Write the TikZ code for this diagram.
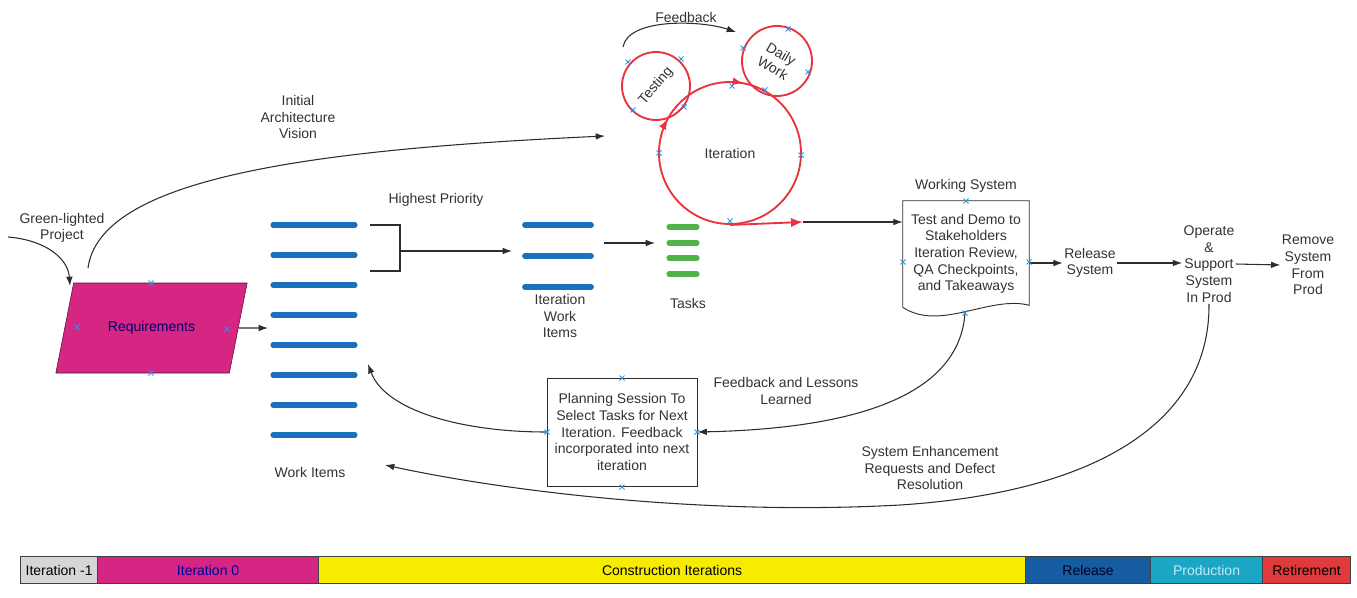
\documentclass[tikz,border=0pt]{standalone}
\usepackage{fontspec}
\setmainfont{Liberation Sans}
\usetikzlibrary{arrows.meta,shapes.geometric,decorations.markings}

\definecolor{reqmag}{RGB}{212,38,130}
\definecolor{itemblue}{RGB}{26,112,186}
\definecolor{taskgreen}{RGB}{84,178,74}
\definecolor{loopred}{RGB}{232,52,62}
\definecolor{cpblue}{RGB}{40,150,230}
\definecolor{txtgray}{RGB}{50,50,50}
\definecolor{lineg}{RGB}{45,45,45}
\definecolor{phgray}{RGB}{214,214,214}
\definecolor{phyellow}{RGB}{246,236,0}
\definecolor{phblue}{RGB}{22,92,162}
\definecolor{phteal}{RGB}{26,166,196}
\definecolor{phred}{RGB}{224,58,58}

\begin{document}
\begin{tikzpicture}[x=0.75pt,y=-0.75pt,
    font=\fontsize{10.5}{12.5}\selectfont,
    lbl/.style={align=center,text=txtgray,inner sep=1pt},
    flow/.style={draw=lineg,line width=0.8pt,-{Latex[length=7pt,width=5pt]}},
    loopline/.style={draw=loopred,line width=1.4pt},
    bubble/.style={loopline,circle,inner sep=0pt},
    itembar/.style={itemblue,line width=3.8pt,line cap=round},
    taskbar/.style={taskgreen,line width=3.8pt,line cap=round},
    phase/.style={draw=black!75,line width=0.9pt,minimum height=20pt,anchor=west,inner sep=0pt},
    cpmark/.style={cpblue,line width=0.7pt},
    loopmarks/.style={decoration={markings,
      mark=at position 0.42 with {\arrowreversed{Latex[length=8pt,width=6pt,color=loopred]}},
      mark=at position 0.22 with {\arrowreversed{Latex[length=8pt,width=6pt,color=loopred]}}},
      postaction={decorate}}]
  \useasboundingbox (0,0) rectangle (1357,597);

  % requirements and the vision
  \node[trapezium,trapezium left angle=63.4,trapezium right angle=116.6,
        trapezium stretches=true,minimum width=193*0.75pt,minimum height=90*0.75pt,
        fill=reqmag,draw=black!60!reqmag,text=blue!45!black] (req) at (151.5,328) {Requirements};
  \node[lbl] (green) at (62,228) {Green-lighted\\Project};
  \node[lbl] (vision) at (298,117) {Initial\\Architecture\\Vision};
  \coordinate (gStart) at (8,237);
  \coordinate (gEnd)   at (70,286);
  \coordinate (vStart) at (88,268);
  \coordinate (vEnd)   at (605,136);
  \draw[flow] (gStart) .. controls (45,240) and (68,258) .. (gEnd);
  \draw[flow] (vStart) .. controls (100,180) and (300,150) .. (vEnd);

  % work items
  \foreach \y in {225,255,...,435}
    \draw[itembar] (273,\y) -- (355,\y);
  \node[lbl] (wi) at (310,472) {Work Items};
  \coordinate (wiIn) at (268,328);
  \coordinate (wiUp) at (368,364);
  \draw[flow] (req.east) -- (wiIn);

  % highest priority bracket
  \node[lbl] (prio) at (436,200) {Highest Priority};
  \coordinate (brk) at (400,251);
  \coordinate (iwiIn) at (512,251);
  \draw[lineg,line width=0.8pt] (370,225) -- (400,225) -- (400,271) -- (370,271);
  \draw[flow] (brk) -- (iwiIn);

  % iteration work items and tasks
  \foreach \y in {225,256,287}
    \draw[itembar,line width=4.4pt] (525,\y) -- (591,\y);
  \node[lbl] (iwi) at (560,316) {Iteration\\Work\\Items};
  \coordinate (iwiOut) at (604,243);
  \coordinate (taskIn) at (655,243);
  \draw[flow] (iwiOut) -- (taskIn);
  \foreach \y in {227,243,258,274}
    \draw[taskbar] (669,\y) -- (697,\y);
  \node[lbl] (tasks) at (688,303) {Tasks};

  % iteration loop
  \node[bubble,minimum size=142*0.75pt,loopmarks] (iter) at (730,153) {};
  \node[bubble,minimum size=68*0.75pt] (test) at (656,86) {};
  \node[bubble,minimum size=70*0.75pt] (daily) at (777,61) {};
  \node[lbl] (iterL) at (iter) {Iteration};
  \node[lbl,rotate=50] (testL) at (test) {Testing};
  \node[lbl,rotate=-30] (dailyL) at (daily) {Daily\\Work};
  \node[lbl] (fb) at (686,17) {Feedback};
  \coordinate (fbStart) at (623,47);
  \coordinate (fbEnd) at (736,32);
  \draw[flow] (fbStart) .. controls (628,18) and (700,20) .. (fbEnd);
  \coordinate (iterOut) at (803,222);
  \draw[loopline,-{Latex[length=9pt,width=7pt]}] (iter.south) -- (iterOut);

  % working system and release
  \node[minimum width=126*0.75pt,minimum height=106*0.75pt,lbl] (doc) at (966,254)
    {Test and Demo to\\Stakeholders\\Iteration Review,\\QA Checkpoints,\\and Takeaways};
  \draw[lineg,line width=0.7pt] (doc.south west) -- (doc.north west) -- (doc.north east)
    -- ([yshift=1.5pt]doc.south east) .. controls (990,295) and (940,332) .. (doc.south west);
  \node[lbl] (wsys) at (966,186) {Working System};
  \draw[flow] (iterOut) -- (iterOut -| doc.west);
  \node[lbl] (rel) at (1090,263) {Release\\System};
  \node[lbl] (op) at (1209,264) {Operate\\\&\\Support\\System\\In Prod};
  \node[lbl] (rem) at (1308,265) {Remove\\System\\From\\Prod};
  \draw[flow] (rel.west -| doc.east) -- (rel.west);
  \draw[flow] (rel.east) -- (op.west |- rel.east);
  \draw[flow] (op.east) -- (rem.west);

  % feedback loops
  \node[draw=lineg,line width=0.7pt,minimum width=150*0.75pt,minimum height=108*0.75pt,lbl]
    (plan) at (622,432) {Planning Session To\\Select Tasks for Next\\Iteration. Feedback\\incorporated into next\\iteration};
  \node[lbl] (lessons) at (786,391) {Feedback and Lessons\\Learned};
  \node[lbl] (enh) at (930,468) {System Enhancement\\Requests and Defect\\Resolution};
  \coordinate (docOut) at (965,313);
  \coordinate (wiBack) at (385,465);
  \draw[flow] (docOut) .. controls (960,385) and (880,428) .. (plan.east);
  \draw[flow] (plan.west) .. controls (460,432) and (385,410) .. (wiUp);
  \draw[flow] (op.south) .. controls (1210,420) and (1100,492) .. (900,505)
    .. controls (700,516) and (500,490) .. (wiBack);

  % connection points
  \foreach \x/\y in {151/283,151/373,77/327,227/329,966/201,903/262,1029/262,965/313,
      622/378,622/487,547/432,697/432,659/153,801/155,730/221,732/86,
      628/62,681/59,633/110,684/107,743/48,788/29,808/72,765/90}
    \draw[cpmark] (\x,\y) ++(-2.5,-2.5) -- ++(5,5) ++(-5,0) -- ++(5,-5);

  % phases
  \node[phase,fill=phgray,minimum width=77*0.75pt] (phA) at (20,570) {Iteration -1};
  \node[phase,fill=reqmag,minimum width=221*0.75pt,text=blue!60!black] (phB) at (97,570) {Iteration 0};
  \node[phase,fill=phyellow,minimum width=707*0.75pt] (phC) at (318,570) {Construction Iterations};
  \node[phase,fill=phblue,minimum width=125*0.75pt,text=black!85!blue] (phD) at (1025,570) {Release};
  \node[phase,fill=phteal,minimum width=112*0.75pt,text=cyan!25] (phE) at (1150,570) {Production};
  \node[phase,fill=phred,minimum width=88*0.75pt] (phF) at (1262,570) {Retirement};
\end{tikzpicture}
\end{document}
